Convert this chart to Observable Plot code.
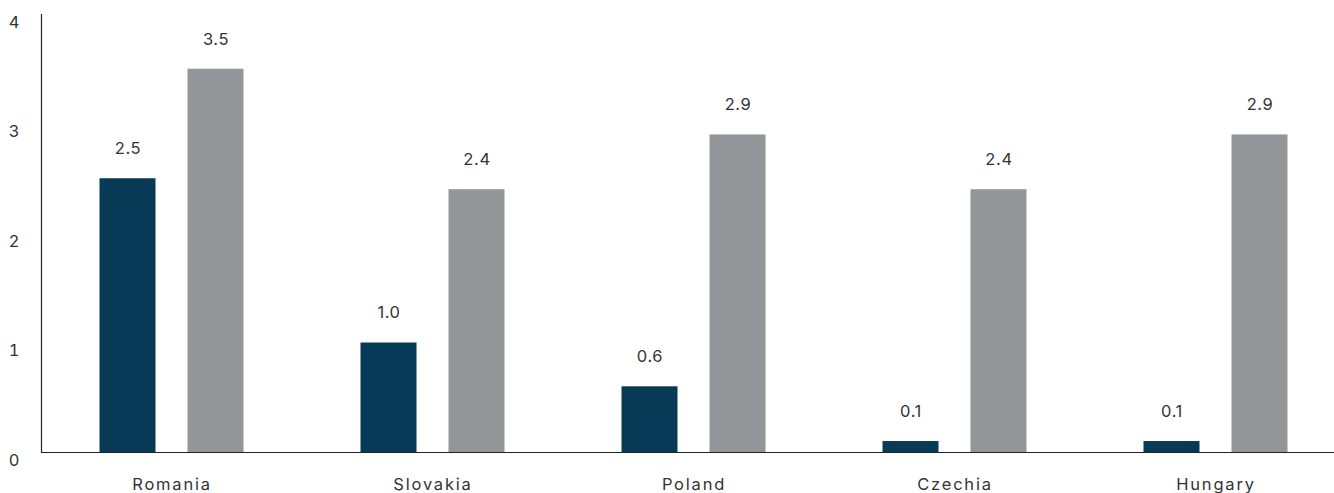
<!DOCTYPE html>
<html>
<head>
<meta charset="utf-8">
<script src="https://cdn.jsdelivr.net/npm/d3@7"></script>
<script src="https://cdn.jsdelivr.net/npm/@observablehq/plot@0.6"></script>
<style>
  html, body { margin: 0; padding: 0; background: #fff; }
  svg { display: block; }
  g[aria-label="x-axis tick label"] text { letter-spacing: 1.8px; }
  g[aria-label="text"] text { letter-spacing: 0.6px; }
</style>
</head>
<body>
<div id="chart"></div>
<script>
const countries = ["Romania", "Slovakia", "Poland", "Czechia", "Hungary"];
const seriesA = [2.5, 1.0, 0.6, 0.1, 0.1];
const seriesB = [3.5, 2.4, 2.9, 2.4, 2.9];
const yTicks = [0, 1, 2, 3, 4];

const dataA = countries.map((c, i) => ({country: c, value: seriesA[i]}));
const dataB = countries.map((c, i) => ({country: c, value: seriesB[i]}));

const colorA = "#063a57";
const colorB = "#939598";
const textColor = "#333333";

const chart = Plot.plot({
  width: 1334,
  height: 493,
  marginLeft: 41,
  marginRight: 0,
  marginTop: 14,
  marginBottom: 41,
  style: {fontFamily: "Inter, 'Open Sans', sans-serif", fontSize: "16px", color: textColor, background: "#fff"},
  x: {domain: countries, range: [41, 1346], padding: 0, axis: null, label: null},
  y: {domain: [0, 4], axis: null, label: null},
  marks: [
    Plot.barY(dataA, {x: "country", y: "value", fill: colorA, insetLeft: 58.5, insetRight: 146.5}),
    Plot.barY(dataB, {x: "country", y: "value", fill: colorB, insetLeft: 146.5, insetRight: 58.5}),
    Plot.text(dataA, {x: "country", y: "value", text: d => d.value.toFixed(1), dx: -44, dy: -30, fill: textColor, fontSize: 16.5}),
    Plot.text(dataB, {x: "country", y: "value", text: d => d.value.toFixed(1), dx: 44, dy: -30, fill: textColor, fontSize: 16.5}),
    Plot.axisX({tickSize: 0, tickPadding: 26, fill: textColor, fontSize: 16.5, label: null}),
    Plot.axisY({ticks: yTicks, tickSize: 0, tickPadding: 22, dy: 8, fill: textColor, fontSize: 16.5, tickFormat: d => String(d), label: null}),
    Plot.ruleY([0], {stroke: "#222", strokeWidth: 1.2}),
    Plot.frame({anchor: "left", stroke: "#222", strokeWidth: 1.2})
  ]
});
document.getElementById("chart").appendChild(chart);
</script>
</body>
</html>
